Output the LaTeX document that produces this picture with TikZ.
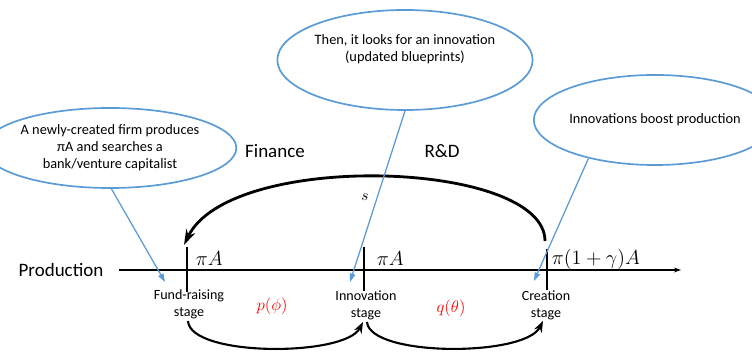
\documentclass[tikz,border=0pt]{standalone}
\usepackage{fontspec}
\setmainfont{Carlito}
\usetikzlibrary{shapes.geometric,arrows.meta}
\definecolor{bulle}{RGB}{91,155,213}

\begin{document}
\begin{tikzpicture}[x=0.025cm, y=-0.025cm,
  bulle/.style={draw=bulle, line width=1.2pt, ellipse, inner sep=0pt, align=center, font=\fontsize{10.2}{12}\selectfont},
  pointe/.style={draw=bulle, line width=0.9pt, -{Triangle[length=6pt,width=4pt]}},
  etape/.style={align=center, font=\fontsize{10}{12}\selectfont},
  valeur/.style={anchor=west, font=\fontsize{13.5}{15}\selectfont},
  titre/.style={font=\fontsize{13.5}{15}\selectfont}]
\useasboundingbox (0,0) rectangle (752,352);

\node[bulle, minimum width=5.1cm, minimum height=2cm] (gauche) at (110,148) {A newly-created firm produces\\πA and searches a\\bank/venture capitalist};
\node[bulle, minimum width=5.6cm, minimum height=2.5cm] (milieu) at (405,60) {Then, it looks for an innovation\\(updated blueprints)\\[5pt]};
\node[bulle, minimum width=4.85cm, minimum height=2.25cm] (droite) at (655,120) {Innovations boost production};

\node[titre] (prod) at (61,270) {Production};
\node[titre] (fin) at (275,151) {Finance};
\node[titre] (rd) at (442,151) {R\&D};

\coordinate (debut) at (119,270);
\coordinate (bout) at (681,270);
\draw[line width=0.8pt, -{Stealth[length=5pt,width=3.5pt]}] (debut) -- (bout);

\draw[line width=0.8pt] (187,247) -- (187,292);
\draw[line width=0.8pt] (364,247) -- (364,291);
\draw[line width=0.8pt] (547,249) -- (547,290);

\node[valeur] (pa1) at (191,259) {$\pi A$};
\node[valeur] (pa2) at (372,259) {$\pi A$};
\node[valeur] (pa3) at (547,259) {$\pi(1+\gamma)A$};

\node[etape] (fund) at (189,304) {Fund-raising\\stage};
\node[etape] (inno) at (366,305) {Innovation\\stage};
\node[etape] (crea) at (546,305) {Creation\\stage};

\node[text=red, font=\fontsize{12}{14}\selectfont] (pphi) at (272,306) {$p(\phi)$};
\node[text=red, font=\fontsize{12}{14}\selectfont] (qtheta) at (451,308) {$q(\theta)$};
\node[font=\fontsize{11}{13}\selectfont] (s) at (365,197) {$s$};

\coordinate (haut1) at (545,241);
\coordinate (haut2) at (184,245);
\draw[line width=2pt, -{Stealth[length=11pt,width=7pt]}] (haut1) .. controls (545,160) and (230,150) .. (haut2);

\coordinate (bas1) at (188,321);
\coordinate (bas2) at (363,322);
\coordinate (bas3) at (367,322);
\coordinate (bas4) at (543,321);
\draw[line width=1.5pt, -{Stealth[length=8pt,width=6pt]}] (bas1) .. controls (190,357) and (345,357) .. (bas2);
\draw[line width=1.5pt, -{Stealth[length=8pt,width=6pt]}] (bas3) .. controls (370,357) and (525,357) .. (bas4);

\coordinate (cible1) at (165,282);
\coordinate (cible2) at (350,282);
\coordinate (cible3) at (534,281);
\draw[pointe] (gauche.272) -- (cible1);
\draw[pointe] (milieu.south) -- (cible2);
\draw[pointe] (droite.210) -- (cible3);
\end{tikzpicture}
\end{document}
